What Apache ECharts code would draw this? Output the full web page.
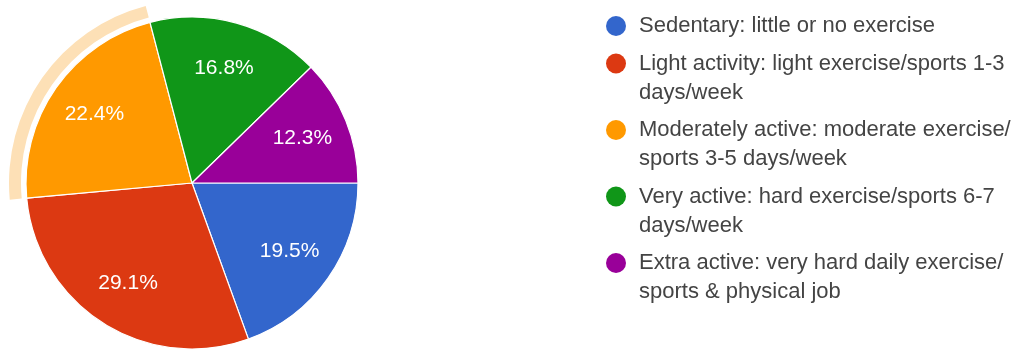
<!DOCTYPE html>
<html>
<head>
<meta charset="utf-8">
<style>
  html, body { margin: 0; padding: 0; background: #ffffff; }
  #chart { width: 1021px; height: 354px; }
</style>
<script src="https://cdn.jsdelivr.net/npm/echarts@6/dist/echarts.min.js"></script>
</head>
<body>
<div id="chart"></div>
<script>
// Activity level categories (legend text, wrapped as shown)
const categories = [
  'Sedentary: little or no exercise',
  'Light activity: light exercise/sports 1-3\ndays/week',
  'Moderately active: moderate exercise/\nsports 3-5 days/week',
  'Very active: hard exercise/sports 6-7\ndays/week',
  'Extra active: very hard daily exercise/\nsports & physical job'
];
// Share of respondents, percent
const shares = [19.5, 29.1, 22.4, 16.8, 12.3];
// Slice colours
const colors = ['#3366cc', '#dc3912', '#ff9900', '#109618', '#990099'];
// Highlighted slice (hover ring)
const highlighted = 2;
const haloColor = '#fde0b6';

const FONT = '"Liberation Sans", Arial, sans-serif';
const LINE_H = 29;
const ITEM_GAP = 8.5;

const chart = echarts.init(document.getElementById('chart'), null, { renderer: 'canvas' });

const center = [192, 183];
const R = 166;

const mainData = categories.map((name, i) => ({
  name, value: shares[i], itemStyle: { color: colors[i] }
}));

const haloData = categories.map((name, i) => ({
  name, value: shares[i],
  itemStyle: { color: i === highlighted ? haloColor : 'rgba(0,0,0,0)' }
}));

const labelData = categories.map((name, i) => ({
  name, value: shares[i], itemStyle: { color: 'rgba(0,0,0,0)' }
}));

const legendData = categories.map((name, i) => ({
  name,
  itemStyle: { color: colors[i] }
}));

chart.setOption({
  animation: false,
  backgroundColor: '#ffffff',
  legend: {
    orient: 'vertical',
    left: 606,
    top: 11.5,
    padding: 0,
    align: 'left',
    icon: 'circle',
    itemWidth: 20,
    itemHeight: 20,
    // wrapped entries carry a leading blank line so the marker sits beside the first line
    itemGap: ITEM_GAP - LINE_H,
    selectedMode: false,
    data: legendData,
    formatter: name => (name.indexOf('\n') >= 0 ? '\n' : '') + name,
    textStyle: {
      fontFamily: FONT,
      fontSize: 22,
      lineHeight: LINE_H,
      color: '#444444',
      padding: [0, 0, 0, 8]
    }
  },
  series: [
    {
      type: 'pie',
      name: 'halo',
      center,
      radius: [R + 5, R + 17],
      startAngle: 0,
      clockwise: true,
      silent: true,
      legendHoverLink: false,
      label: { show: false },
      labelLine: { show: false },
      emphasis: { disabled: true },
      data: haloData,
      z: 1
    },
    {
      type: 'pie',
      name: 'activity',
      center,
      radius: [0, R],
      startAngle: 0,
      clockwise: true,
      silent: true,
      avoidLabelOverlap: false,
      label: { show: false },
      labelLine: { show: false },
      itemStyle: { borderColor: '#ffffff', borderWidth: 1.2 },
      emphasis: { disabled: true },
      data: mainData,
      z: 2
    },
    {
      type: 'pie',
      name: 'labels',
      center,
      radius: [0, R * 1.4],
      startAngle: 0,
      clockwise: true,
      silent: true,
      legendHoverLink: false,
      avoidLabelOverlap: false,
      label: {
        show: true,
        position: 'inside',
        formatter: p => p.value.toFixed(1) + '%',
        color: '#ffffff',
        fontFamily: FONT,
        fontSize: 21
      },
      labelLine: { show: false },
      emphasis: { disabled: true },
      data: labelData,
      z: 3
    }
  ]
});
</script>
</body>
</html>
